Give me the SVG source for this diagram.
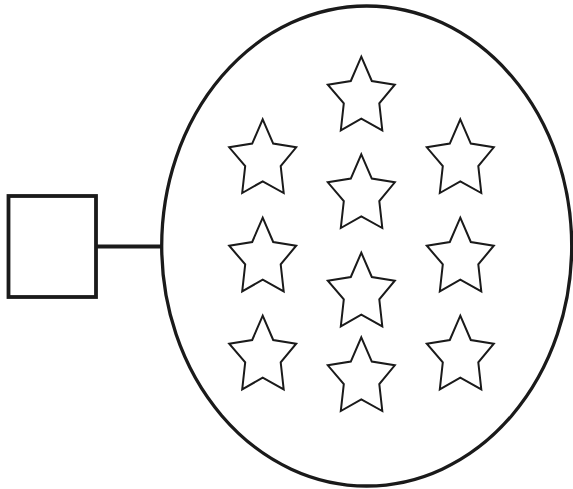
<svg xmlns="http://www.w3.org/2000/svg" width="573" height="489" viewBox="0 0 573 489">
<defs>
<style>
.shape{fill:none;stroke:#1a1a1a;}
.star{fill:#fff;stroke:#1a1a1a;stroke-width:2;stroke-linejoin:miter;}
</style>
<path id="star" d="M0,0 L10.5,24.3 L33.5,28 L18,46.7 L21,73.7 L0,62 L-20.5,73.7 L-17.5,46.7 L-33.5,28 L-10.5,24.3 Z"/>
</defs>
<rect width="573" height="489" fill="#fff"/>
<g id="connectors">
<line class="shape" x1="97" y1="246.5" x2="162" y2="246.5" stroke-width="3.8"/>
</g>
<g id="box">
<rect class="shape" x="8.5" y="196" width="87.5" height="101" stroke-width="3.8"/>
</g>
<g id="ellipse-node">
<ellipse class="shape" cx="366.7" cy="246" rx="205" ry="240" stroke-width="3.3"/>
<use href="#star" class="star" x="361.3" y="56.7"/>
<use href="#star" class="star" x="262.7" y="119.3"/>
<use href="#star" class="star" x="460.3" y="119.3"/>
<use href="#star" class="star" x="361.3" y="154.3"/>
<use href="#star" class="star" x="262.7" y="217.7"/>
<use href="#star" class="star" x="460.3" y="217.7"/>
<use href="#star" class="star" x="361.3" y="252.7"/>
<use href="#star" class="star" x="262.7" y="315.7"/>
<use href="#star" class="star" x="460.3" y="315.7"/>
<use href="#star" class="star" x="361.3" y="337.3"/>
</g>
</svg>
